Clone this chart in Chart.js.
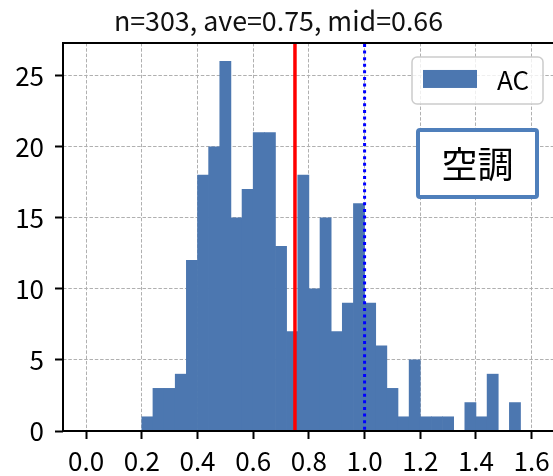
<!DOCTYPE html>
<html>
<head>
<meta charset="utf-8">
<script src="https://cdn.jsdelivr.net/npm/chart.js@4.4.1/dist/chart.umd.min.js"></script>
<style>
html, body { margin: 0; padding: 0; background: #fff; overflow: hidden; }
</style>
</head>
<body>
<!-- a figura original é cortada à direita: o canvas é mais largo que a janela -->
<canvas id="histograma" width="620" height="476"></canvas>
<script>
// Dados
const binLeft = [0.20, 0.24, 0.28, 0.32, 0.36, 0.40, 0.44, 0.48, 0.52, 0.56,
                 0.60, 0.64, 0.68, 0.72, 0.76, 0.80, 0.84, 0.88, 0.92, 0.96,
                 1.00, 1.04, 1.08, 1.12, 1.16, 1.20, 1.24, 1.28, 1.32, 1.36,
                 1.40, 1.44, 1.48, 1.52];
const counts  = [1, 3, 3, 4, 12, 18, 20, 26, 15, 17,
                 21, 21, 13, 7, 18, 10, 15, 7, 9, 16,
                 9, 6, 3, 1, 5, 1, 1, 1, 0, 2,
                 1, 4, 0, 2];
const binWidth = 0.04;
const xTicks = [0.0, 0.2, 0.4, 0.6, 0.8, 1.0, 1.2, 1.4, 1.6];
const yTicks = [0, 5, 10, 15, 20, 25];
const serieNome = "AC";
const etiqueta = "空調";
const titulo = "n=303, ave=0.75, mid=0.66";
const media = 0.75;
const referencia = 1.0;

const AZUL = '#4c77b0';
const FONTE = "'Noto Sans CJK JP', 'Noto Sans', sans-serif";

Chart.defaults.font.family = FONTE;
Chart.defaults.color = '#000';

// eixos, linhas, legenda e etiqueta
const extras = {
    id: 'extras',
    afterDraw(chart) {
        const {ctx, chartArea: a, scales} = chart;
        ctx.save();

        ctx.strokeStyle = '#000';
        ctx.lineWidth = 2;
        ctx.beginPath();
        ctx.moveTo(a.right, a.top);
        ctx.lineTo(a.left, a.top);
        ctx.lineTo(a.left, a.bottom);
        ctx.lineTo(a.right, a.bottom);
        ctx.stroke();

        const xm = scales.x.getPixelForValue(media);
        ctx.strokeStyle = '#ff0000';
        ctx.lineWidth = 3.5;
        ctx.beginPath();
        ctx.moveTo(xm, a.top + 1);
        ctx.lineTo(xm, a.bottom - 1);
        ctx.stroke();

        const xr = scales.x.getPixelForValue(referencia);
        ctx.strokeStyle = '#0000ff';
        ctx.lineWidth = 3;
        ctx.setLineDash([3, 3.6]);
        ctx.beginPath();
        ctx.moveTo(xr, a.top + 1);
        ctx.lineTo(xr, a.bottom - 1);
        ctx.stroke();
        ctx.setLineDash([]);

        // legenda
        const lx = a.right - 145, ly = a.top + 14;
        ctx.fillStyle = 'rgba(255,255,255,0.8)';
        ctx.strokeStyle = '#cccccc';
        ctx.lineWidth = 1.5;
        ctx.beginPath();
        ctx.roundRect(lx, ly, 131, 47, 5);
        ctx.fill();
        ctx.stroke();
        ctx.fillStyle = AZUL;
        ctx.fillRect(lx + 11, ly + 13, 54, 18);
        ctx.fillStyle = '#000';
        ctx.font = '26px ' + FONTE;
        ctx.textBaseline = 'middle';
        ctx.textAlign = 'left';
        ctx.fillText(serieNome, lx + 85, ly + 23);

        // etiqueta
        const bx = a.right - 139, by = a.top + 87;
        ctx.fillStyle = '#fff';
        ctx.strokeStyle = '#4f7fbb';
        ctx.lineWidth = 4;
        ctx.beginPath();
        ctx.roundRect(bx, by, 119, 67, 2);
        ctx.fill();
        ctx.stroke();
        ctx.fillStyle = '#000';
        ctx.font = '36px ' + FONTE;
        ctx.textAlign = 'center';
        ctx.fillText(etiqueta, bx + 59.5, by + 34);

        ctx.restore();
    }
};

const grade = {
    color: '#b0b0b0',
    lineWidth: 1,
    offset: false,
    tickLength: 8,
    tickColor: '#000',
    tickWidth: 2,
    tickBorderDash: []
};

const borda = { display: false, dash: [3.5, 1.8] };

new Chart(
    document.getElementById("histograma"),
    {
    type: "bar",
    data: {
        datasets: [{
            label: serieNome,
            data: binLeft.map((b, i) => ({x: b + binWidth / 2, y: counts[i]})),
            backgroundColor: AZUL,
            borderWidth: 0,
            barPercentage: 1,
            categoryPercentage: 1
        }]
    },
    options: {
        responsive: false,
        animation: false,
        layout: { padding: { right: 63 } },
        plugins: {
            legend: { display: false },
            tooltip: { enabled: false },
            title: {
                display: true,
                text: titulo,
                color: '#111',
                font: { size: 26.8, weight: 'normal', lineHeight: 1.2 },
                padding: { top: 4.8, bottom: 6 }
            }
        },
        scales: {
            x: {
                type: 'linear',
                offset: false,
                min: -0.083,
                max: 1.691,
                z: 1,
                grid: grade,
                border: borda,
                afterBuildTicks: s => { s.ticks = xTicks.map(v => ({value: v})); },
                afterFit: s => { s.height = 45; },
                ticks: {
                    padding: 7,
                    font: { size: 26 },
                    maxRotation: 0,
                    callback: v => Number(v).toFixed(1)
                }
            },
            y: {
                min: 0,
                max: 27.3,
                z: 1,
                grid: grade,
                border: borda,
                afterBuildTicks: s => { s.ticks = yTicks.map(v => ({value: v})); },
                afterFit: s => { s.width = 63; },
                ticks: {
                    padding: 11,
                    font: { size: 26 },
                    callback: v => String(v)
                }
            }
        }
    },
    plugins: [extras]
    }
);
</script>
</body>
</html>
